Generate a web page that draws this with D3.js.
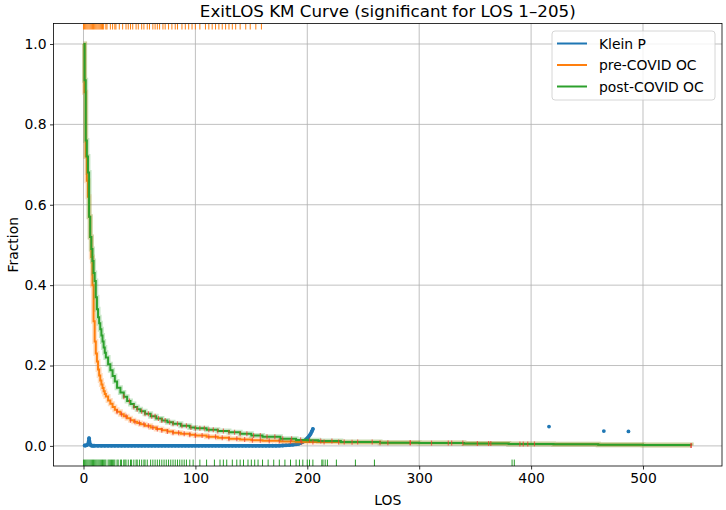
<!DOCTYPE html>
<html>
<head>
<meta charset="utf-8">
<script src="https://cdn.jsdelivr.net/npm/d3@7"></script>
<style>
  body { margin: 0; background: #fff; }
  text { font-family: "DejaVu Sans", sans-serif; fill: #000; }
</style>
</head>
<body>
<div id="chart"></div>
<script>
/* ExitLOS Kaplan-Meier curves, pre vs post COVID, with Klein p-values */

// pre-COVID OC survival (step curve)
const preDays = [0,1,2,3,4,5,6,7,8,9,10,11,12,13,14,15,16,17,18,19,20,22,24,26,28,30,33,36,39,42,45,48,51,55,60,65,70,75,80,87,95,100,110,120,130,140,150,160,176,190,210,230,265,300,340,380,420,460,500,543];
const preSurv = [1.0,0.88,0.72,0.66,0.62,0.57,0.52,0.47,0.40,0.31,0.26,0.23,0.21,0.19,0.175,0.163,0.153,0.144,0.136,0.129,0.123,0.113,0.105,0.097,0.090,0.085,0.079,0.074,0.069,0.064,0.060,0.057,0.054,0.050,0.046,0.042,0.039,0.036,0.033,0.030,0.028,0.026,0.023,0.020,0.018,0.016,0.014,0.013,0.011,0.010,0.0095,0.009,0.008,0.007,0.006,0.005,0.004,0.003,0.002,0.001];

// post-COVID OC survival (step curve)
const postDays = [0,1,2,3,4,5,6,7,8,9,10,11,12,13,14,15,16,17,18,19,20,22,24,26,28,30,33,36,39,42,45,48,51,55,60,65,70,75,80,87,95,100,110,120,130,140,150,160,176,190,200,210,230,265,300,340,380,420,460,500,543];
const postSurv = [1.0,0.91,0.76,0.72,0.68,0.57,0.52,0.49,0.46,0.43,0.41,0.37,0.34,0.32,0.305,0.29,0.275,0.26,0.245,0.232,0.22,0.203,0.188,0.174,0.160,0.145,0.133,0.122,0.112,0.104,0.097,0.091,0.086,0.080,0.074,0.068,0.063,0.059,0.055,0.050,0.046,0.044,0.040,0.037,0.034,0.030,0.026,0.023,0.018,0.015,0.014,0.012,0.010,0.008,0.007,0.006,0.005,0.004,0.003,0.002,0.001];

// censored observations (drawn as red ticks on the curves)
const preCensor = [30,34,38,42,46,50,54,58,62,66,70,75,80,85,90,95,100,106,112,118,124,130,137,144,151,158,166,175,185,195,205,215,228,240,265,292,326,339,362,390,397,543];
const postCensor = [36,41,45,48,52,55,58,61,64,67,70,73,77,80,84,88,92,96,100,104,108,112,116,120,125,130,135,140,146,152,158,164,171,178,186,194,202,212,222,233,245,258,272,292,311,329,352,364,393,403,543];

// Klein p-values, significant run LOS 1-205
const kleinDays = [1,2,3,4,5,6,7,8,9,10,13,16,19,22,25,28,31,34,37,40,43,46,49,52,55,58,61,64,67,70,73,76,79,82,85,88,91,94,97,100,103,106,109,112,115,118,121,124,127,130,133,136,139,142,145,148,151,154,157,160,163,166,169,172,175,178,181,184,187,190,192,194,196,198,199,200,201,202,203,204,205];
const kleinP = [0.001,0.001,0.002,0.004,0.019,0.003,0.001,0.0005,0.0005,0.0005,
  0.0003,0.0003,0.0003,0.0003,0.0003,0.0003,0.0003,0.0003,0.0003,0.0003,
  0.0003,0.0003,0.0003,0.0003,0.0003,0.0003,0.0003,0.0003,0.0003,0.0003,
  0.0003,0.0003,0.0003,0.0003,0.0003,0.0003,0.0003,0.0003,0.0003,0.0003,
  0.0003,0.0003,0.0003,0.0003,0.0003,0.0003,0.0003,0.0003,0.0003,0.0003,
  0.0003,0.0003,0.0003,0.0003,0.0003,0.0003,0.0003,0.0003,0.0003,0.0003,
  0.0003,0.0004,0.0004,0.0004,0.0005,
  0.001,0.0015,0.002,0.003,0.004,
  0.005,0.007,0.010,0.014,
  0.016,0.019,0.022,0.026,0.030,0.036,0.042];
// isolated significant points later on
const kleinLateDays = [416,465,487];
const kleinLateP = [0.048,0.037,0.036];

// rug ticks: pre-COVID at the top, post-COVID at the bottom
const preRug = [0,1,2,3,4,5,6,7,8,9,10,11,12,13,14,15,16,17,18,20,21,24,26,28,29,32,35,38,40,42,44,47,49,52,54,57,59,62,64,66,68,71,73,76,79,82,84,88,91,94,97,100,104,109,112,115,118,121,124,127,130,133,136,140,145,149,154,159];
const postRug = [0,1,2,3,4,5,6,7,8,9,10,11,12,13,14,15,16,17,18,19,20,22,23,24,25,26,27,28,30,31,33,34,36,37,38,40,42,43,45,47,48,50,52,54,55,57,60,62,64,66,68,70,72,74,76,78,80,82,84,86,88,90,92,95,98,104,110,117,122,125,128,133,137,140,143,147,150,153,156,160,165,170,175,180,185,190,193,196,200,202,205,213,214,216,218,226,243,260,383,385];

const xTicks = [0,100,200,300,400,500];
const yTicks = [0.0,0.2,0.4,0.6,0.8,1.0];

const seriesNames = ["Klein P", "pre-COVID OC", "post-COVID OC"];
const colors = ["#1f77b4", "#ff7f0e", "#2ca02c"];

const width = 726, height = 510,
      margin = ({top: 23.5, right: 4, bottom: 44, left: 53.5});

const svg = d3.select("#chart")
    .append("svg")
    .attr("width", width)
    .attr("height", height);

const x = d3.scaleLinear()
    .domain([-26.8, 570.6])
    .range([margin.left, width - margin.right]);

const y = d3.scaleLinear()
    .domain([-0.05, 1.051])
    .range([height - margin.bottom, margin.top]);

svg.append("clipPath").attr("id", "clip")
  .append("rect")
    .attr("x", margin.left).attr("y", margin.top)
    .attr("width", width - margin.left - margin.right)
    .attr("height", height - margin.top - margin.bottom);

// grid
const grid = svg.append("g").attr("stroke", "#b0b0b0").attr("stroke-width", 0.8);
grid.selectAll(".gx").data(xTicks).join("line")
    .attr("x1", d => x(d)).attr("x2", d => x(d))
    .attr("y1", margin.top).attr("y2", height - margin.bottom);
grid.selectAll(".gy").data(yTicks).join("line")
    .attr("x1", margin.left).attr("x2", width - margin.right)
    .attr("y1", d => y(d)).attr("y2", d => y(d));

const plot = svg.append("g").attr("clip-path", "url(#clip)");

// step value of a KM curve at time t
function stepAt(days, vals, t) {
    const i = d3.bisectRight(days, t) - 1;
    return vals[Math.max(0, i)];
}

const stepLine = d3.line()
    .x(d => x(d[0]))
    .y(d => y(d[1]))
    .curve(d3.curveStepAfter);

// Klein P
const kleinPts = kleinDays.map((d, i) => [d, kleinP[i]]);
plot.append("path")
    .attr("d", d3.line().x(d => x(d[0])).y(d => y(d[1]))(kleinPts))
    .attr("fill", "none").attr("stroke", colors[0]).attr("stroke-width", 3.4)
    .attr("stroke-linejoin", "round").attr("stroke-linecap", "round");
plot.selectAll(".kdot")
    .data(kleinPts.concat(kleinLateDays.map((d, i) => [d, kleinLateP[i]])))
    .join("circle")
    .attr("cx", d => x(d[0])).attr("cy", d => y(d[1]))
    .attr("r", 1.9).attr("fill", colors[0]);

// KM curves
const curves = [
    {days: preDays, vals: preSurv, censor: preCensor, color: colors[1]},
    {days: postDays, vals: postSurv, censor: postCensor, color: colors[2]}
];

for (let c of curves) {
    const pts = c.days.map((d, i) => [d, c.vals[i]]);
    plot.append("path")   // faint confidence halo
        .attr("d", stepLine(pts))
        .attr("fill", "none").attr("stroke", c.color)
        .attr("stroke-opacity", 0.25).attr("stroke-width", 5);
    plot.append("path")
        .attr("d", stepLine(pts))
        .attr("fill", "none").attr("stroke", c.color).attr("stroke-width", 2);
}
for (let c of curves) {
    plot.selectAll(null).data(c.censor).join("line")
        .attr("x1", d => x(d)).attr("x2", d => x(d))
        .attr("y1", d => y(stepAt(c.days, c.vals, d)) - 2.5)
        .attr("y2", d => y(stepAt(c.days, c.vals, d)) + 2.5)
        .attr("stroke", "#f03c32").attr("stroke-opacity", 0.7).attr("stroke-width", 1.2);
}

// rugs
plot.selectAll(".rugTop").data(preRug).join("line")
    .attr("x1", d => x(d)).attr("x2", d => x(d))
    .attr("y1", y(1.051)).attr("y2", y(1.036))
    .attr("stroke", colors[1]).attr("stroke-width", 1);
plot.selectAll(".rugBot").data(postRug).join("line")
    .attr("x1", d => x(d)).attr("x2", d => x(d))
    .attr("y1", y(-0.034)).attr("y2", y(-0.05))
    .attr("stroke", colors[2]).attr("stroke-width", 1);

// axes
const xAxis = g => g
    .attr("transform", `translate(0, ${height - margin.bottom})`)
    .call(d3.axisBottom(x).tickValues(xTicks).tickSize(3.5).tickPadding(3.5).tickFormat(d3.format("d")));
const yAxis = g => g
    .attr("transform", `translate(${margin.left}, 0)`)
    .call(d3.axisLeft(y).tickValues(yTicks).tickSize(3.5).tickPadding(3.5).tickFormat(d3.format(".1f")));

svg.append("g").call(xAxis);
svg.append("g").call(yAxis);
svg.selectAll(".tick text").attr("font-size", 13.9).attr("font-family", "DejaVu Sans");
svg.selectAll(".domain").remove();
svg.selectAll(".tick line").attr("stroke-width", 0.8);

svg.append("rect")
    .attr("x", margin.left).attr("y", margin.top)
    .attr("width", width - margin.left - margin.right)
    .attr("height", height - margin.top - margin.bottom)
    .attr("fill", "none").attr("stroke", "#000").attr("stroke-width", 0.8);

// labels
svg.append("text")
    .attr("x", (margin.left + width - margin.right) / 2).attr("y", 16.5)
    .attr("text-anchor", "middle").attr("font-size", 16.7)
    .text("ExitLOS KM Curve (significant for LOS 1–205)");
svg.append("text")
    .attr("x", (margin.left + width - margin.right) / 2).attr("y", 505)
    .attr("text-anchor", "middle").attr("font-size", 13.9)
    .text("LOS");
svg.append("text")
    .attr("transform", `translate(18, ${(margin.top + height - margin.bottom) / 2}) rotate(-90)`)
    .attr("text-anchor", "middle").attr("font-size", 13.9)
    .text("Fraction");

// legend
const legend = svg.append("g").attr("transform", "translate(552, 31)");
legend.append("rect")
    .attr("width", 163).attr("height", 69).attr("rx", 3)
    .attr("fill", "#fff").attr("fill-opacity", 0.8)
    .attr("stroke", "#cccccc").attr("stroke-width", 0.8);
seriesNames.forEach((name, i) => {
    const ly = 12.5 + i * 21.5;
    legend.append("line")
        .attr("x1", 5).attr("x2", 35).attr("y1", ly).attr("y2", ly)
        .attr("stroke", colors[i]).attr("stroke-width", 2);
    legend.append("text")
        .attr("x", 47).attr("y", ly + 5)
        .attr("font-size", 13.9)
        .text(name);
});
</script>
</body>
</html>
